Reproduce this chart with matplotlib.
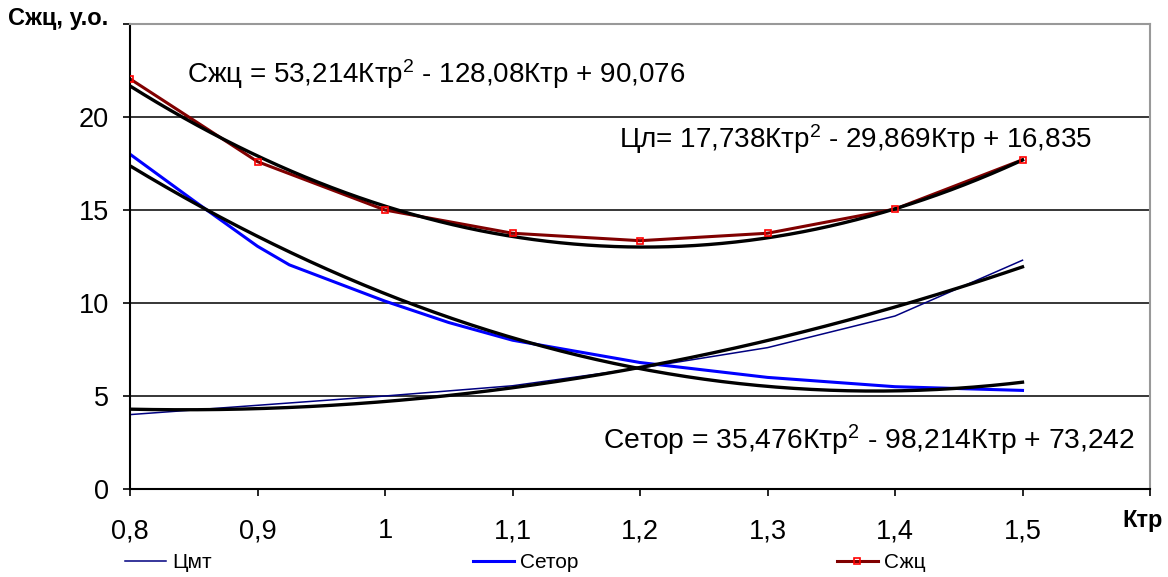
import numpy as np
import matplotlib
matplotlib.use("Agg")
import matplotlib.pyplot as plt
from matplotlib.lines import Line2D

plt.rcParams['font.family'] = ['Liberation Sans', 'DejaVu Sans']
plt.rcParams['mathtext.fontset'] = 'custom'
plt.rcParams['mathtext.rm'] = 'Liberation Sans'
plt.rcParams['mathtext.it'] = 'Liberation Sans'
plt.rcParams['mathtext.bf'] = 'Liberation Sans:bold'

# ---- data ----
x_cmt = [0.8, 0.9, 1.0, 1.1, 1.2, 1.3, 1.4, 1.5]
y_cmt = [4.0, 4.5, 5.0, 5.55, 6.5, 7.6, 9.3, 12.3]

x_setor = [0.8, 0.85, 0.9, 0.925, 1.0, 1.05, 1.1, 1.2, 1.3, 1.4, 1.5]
y_setor = [18.0, 15.5, 13.05, 12.05, 10.1, 8.95, 8.0, 6.8, 6.0, 5.5, 5.3]

x_szc = [0.8, 0.9, 1.0, 1.1, 1.2, 1.3, 1.4, 1.5]
y_szc = [22.05, 17.6, 15.0, 13.75, 13.35, 13.75, 15.05, 17.7]

# trendline coefficients (a*x^2 + b*x + c) shown on the chart
coef_szc = [53.214, -128.08, 90.076]
coef_cmt = [17.738, -29.869, 16.835]
coef_setor = [35.476, -98.214, 73.242]

x_ticks = [0.8, 0.9, 1.0, 1.1, 1.2, 1.3, 1.4, 1.5, 1.6]
x_labels = ['0,8', '0,9', '1', '1,1', '1,2', '1,3', '1,4', '1,5', '']
y_ticks = [0, 5, 10, 15, 20, 25]
y_labels = ['0', '5', '10', '15', '20', '']

eq_szc = 'Сжц = 53,214Ктр$^2$ - 128,08Ктр + 90,076'
eq_cmt = 'Цл= 17,738Ктр$^2$ - 29,869Ктр + 16,835'
eq_setor = 'Сетор = 35,476Ктр$^2$ - 98,214Ктр + 73,242'

# ---- figure ----
fig = plt.figure(figsize=(11.68, 5.77), dpi=100)
ax = fig.add_axes([130/1168, 1-489/577, (1150-130)/1168, (489-24)/577])

ax.set_xlim(0.8, 1.6)
ax.set_ylim(0, 25)

for yv in y_ticks[1:-1]:
    ax.axhline(yv, color='black', lw=1.1, zorder=1)

ax.plot(x_cmt, y_cmt, color='#000080', lw=1.1, zorder=2, label='Цмт')
ax.plot(x_setor, y_setor, color='#0000FF', lw=2.2, zorder=2, label='Сетор')
ax.plot(x_szc, y_szc, color='#800000', lw=2.2, zorder=2, label='Сжц')

xt = np.linspace(0.8, 1.5, 200)
for coef in (coef_szc, coef_cmt, coef_setor):
    ax.plot(xt, np.polyval(coef, xt), color='black', lw=2.4, zorder=3)

ax.plot(x_szc, y_szc, ls='none', marker='s', ms=4.5, mfc='none',
        mec='#FF0000', mew=1.2, zorder=4)

ax.set_xticks(x_ticks)
ax.set_xticklabels(x_labels)
ax.set_yticks(y_ticks)
ax.set_yticklabels(y_labels)
ax.tick_params(axis='both', direction='out', length=5, width=1.2,
               labelsize=19.5, color='black')
ax.tick_params(axis='x', pad=16)
ax.tick_params(axis='y', pad=10)

for s in ('left', 'bottom'):
    ax.spines[s].set_color('black')
    ax.spines[s].set_linewidth(1.5)
for s in ('top', 'right'):
    ax.spines[s].set_color('#999999')
    ax.spines[s].set_linewidth(1.5)

ax.text(0.8447, 22.3, eq_szc, fontsize=20, va='center', ha='left')
ax.text(1.1832, 18.8, eq_cmt, fontsize=20, va='center', ha='left')
ax.text(1.1707, 2.63, eq_setor, fontsize=20.3, va='center', ha='left')

fig.text(8/1168, 1-19/577, 'Сжц, у.о.', fontsize=17, fontweight='bold',
         ha='left', va='center')
fig.text(1163/1168, 1-520/577, 'Ктр', fontsize=17, fontweight='bold',
         ha='right', va='center')

# legend entries
leg_specs = [
    (125, Line2D([], [], color='#000080', lw=1.1), 'Цмт'),
    (473, Line2D([], [], color='#0000FF', lw=2.2), 'Сетор'),
    (837, Line2D([], [], color='#800000', lw=2.2, marker='s', ms=4.5,
                 mfc='none', mec='#FF0000', mew=1.2), 'Сжц'),
]
for px, h, lab in leg_specs:
    fig.legend([h], [lab], loc='center left',
               bbox_to_anchor=(px/1168, 1-563/577), frameon=False,
               fontsize=15, handlelength=1.95, handletextpad=0.3,
               borderpad=0, borderaxespad=0)

fig.savefig('out.png', dpi=100)
